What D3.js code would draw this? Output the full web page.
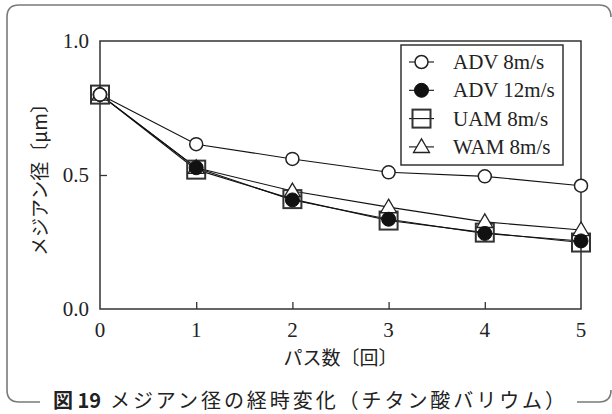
<!DOCTYPE html>
<html>
<head>
<meta charset="utf-8">
<script src="https://cdn.jsdelivr.net/npm/d3@7"></script>
<style>
  body { margin: 0; background: #fff; }
  svg { display: block; }
</style>
</head>
<body>
<svg id="chart" width="612" height="414"></svg>
<script>
const passes = [0, 1, 2, 3, 4, 5];
const adv8 = [0.80, 0.615, 0.56, 0.51, 0.495, 0.46];
const adv12 = [0.80, 0.527, 0.407, 0.335, 0.282, 0.254];
const uam8 = [0.80, 0.52, 0.41, 0.33, 0.285, 0.248];
const wam8 = [0.80, 0.527, 0.44, 0.38, 0.325, 0.295];
const seriesNames = ["ADV 8m/s", "ADV 12m/s", "UAM 8m/s", "WAM 8m/s"];
const yTicks = [0, 0.5, 1.0];

const svg = d3.select("#chart"),
  width = +svg.attr("width"),
  height = +svg.attr("height");

const serif = "'Liberation Serif', 'DejaVu Serif', serif";
const jp = "'Noto Sans CJK JP', sans-serif";

// outer figure frame (rounded, open at bottom for the caption)
const fr = 12, fl = 7, ft = 5, fb = 402, frt = 611;
svg.append("path")
  .attr("d", `M40,${fb} L${fl + fr},${fb} Q${fl},${fb} ${fl},${fb - fr} L${fl},${ft + fr} Q${fl},${ft} ${fl + fr},${ft} L${frt - fr},${ft} Q${frt},${ft} ${frt},${ft + fr}`)
  .attr("fill", "none").attr("stroke", "#7a7a7a").attr("stroke-width", 1.6);
svg.append("path")
  .attr("d", `M577,${fb} L${frt - fr},${fb} Q${frt},${fb} ${frt},${fb - fr}`)
  .attr("fill", "none").attr("stroke", "#7a7a7a").attr("stroke-width", 1.6);

// caption
svg.append("text")
  .attr("x", 53).attr("y", 408)
  .attr("font-family", jp).attr("font-weight", "bold").attr("font-size", 20)
  .attr("fill", "#222")
  .text("図 19");
svg.append("text")
  .attr("x", 110).attr("y", 408)
  .attr("font-family", jp).attr("font-size", 20)
  .attr("fill", "#222")
  .attr("textLength", 455).attr("lengthAdjust", "spacing")
  .text("メジアン径の経時変化（チタン酸バリウム）");

const x = d3.scaleLinear().domain([0, 5]).range([100, 581]);
const y = d3.scaleLinear().domain([0, 1]).range([309, 41]);

// plot frame
svg.append("rect")
  .attr("x", x(0)).attr("y", y(1))
  .attr("width", x(5) - x(0)).attr("height", y(0) - y(1))
  .attr("fill", "none").attr("stroke", "#333").attr("stroke-width", 1.5);

// axes with inward ticks
const xAxis = svg.append("g")
  .attr("transform", `translate(0,${y(0)})`)
  .call(d3.axisTop(x).tickValues(passes.slice(1, 5)).tickSize(7).tickFormat(""));
const yAxis = svg.append("g")
  .attr("transform", `translate(${x(0)},0)`)
  .call(d3.axisRight(y).tickValues([0.5]).tickSize(7).tickFormat(""));
[xAxis, yAxis].forEach(g => {
  g.select(".domain").remove();
  g.selectAll("line").attr("stroke", "#333").attr("stroke-width", 1.3);
});

svg.selectAll(".xlab")
  .data(passes)
  .enter()
  .append("text")
  .attr("class", "xlab")
  .attr("x", d => x(d)).attr("y", 337)
  .attr("text-anchor", "middle")
  .attr("font-family", serif).attr("font-size", 21).attr("fill", "#222")
  .text(d => d);

svg.selectAll(".ylab")
  .data(yTicks)
  .enter()
  .append("text")
  .attr("class", "ylab")
  .attr("x", 89).attr("y", d => y(d) + 7)
  .attr("text-anchor", "end")
  .attr("font-family", serif).attr("font-size", 21).attr("fill", "#222")
  .text(d => d.toFixed(1));

svg.append("text")
  .attr("x", x(2.5)).attr("y", 365)
  .attr("text-anchor", "middle")
  .attr("font-family", jp).attr("font-size", 19).attr("fill", "#222")
  .text("パス数〔回〕");

svg.append("text")
  .attr("transform", `translate(47,${y(0.5)}) rotate(-90)`)
  .attr("text-anchor", "middle")
  .attr("font-family", jp).attr("font-size", 19).attr("fill", "#222")
  .text("メジアン径〔μm〕");

// markers
const drawMarker = (g, kind, cx, cy) => {
  if (kind === "square") {
    g.append("rect")
      .attr("x", cx - 9).attr("y", cy - 9).attr("width", 18).attr("height", 18)
      .attr("fill", "none").attr("stroke", "#333").attr("stroke-width", 2);
  } else if (kind === "triangle") {
    const s = 8;
    g.append("path")
      .attr("d", `M${cx},${cy - s} L${cx + s},${cy + s * 0.7} L${cx - s},${cy + s * 0.7} Z`)
      .attr("fill", "white").attr("stroke", "#222").attr("stroke-width", 1.3);
  } else if (kind === "filled") {
    g.append("circle").attr("cx", cx).attr("cy", cy).attr("r", 7)
      .attr("fill", "#111").attr("stroke", "#111");
  } else {
    g.append("circle").attr("cx", cx).attr("cy", cy).attr("r", 6.5)
      .attr("fill", "white").attr("stroke", "#222").attr("stroke-width", 1.5);
  }
};

const series = [
  { name: seriesNames[2], values: uam8, kind: "square" },
  { name: seriesNames[3], values: wam8, kind: "triangle" },
  { name: seriesNames[1], values: adv12, kind: "filled" },
  { name: seriesNames[0], values: adv8, kind: "open" }
];

const line = d3.line().x((d, i) => x(passes[i])).y(d => y(d));

svg.selectAll(".series-line")
  .data(series)
  .enter()
  .append("path")
  .attr("class", "series-line")
  .attr("d", d => line(d.values))
  .attr("fill", "none").attr("stroke", "#111").attr("stroke-width", 1.1);

series.forEach(s => {
  const g = svg.append("g");
  s.values.forEach((v, i) => drawMarker(g, s.kind, x(passes[i]), y(v)));
});

// legend
const legend = svg.append("g");
legend.append("rect")
  .attr("x", 401).attr("y", 45).attr("width", 162).attr("height", 120)
  .attr("fill", "white").attr("stroke", "#333").attr("stroke-width", 1.5);
const legendKinds = ["open", "filled", "square", "triangle"];
seriesNames.forEach((name, i) => {
  const ly = 62 + i * 28.3;
  legend.append("line")
    .attr("x1", 409).attr("x2", 434).attr("y1", ly).attr("y2", ly)
    .attr("stroke", "#111").attr("stroke-width", 1.1);
  drawMarker(legend, legendKinds[i], 421.5, ly);
  legend.append("text")
    .attr("x", 453).attr("y", ly + 7)
    .attr("font-family", serif).attr("font-size", 21).attr("fill", "#222")
    .text(name);
});
</script>
</body>
</html>
